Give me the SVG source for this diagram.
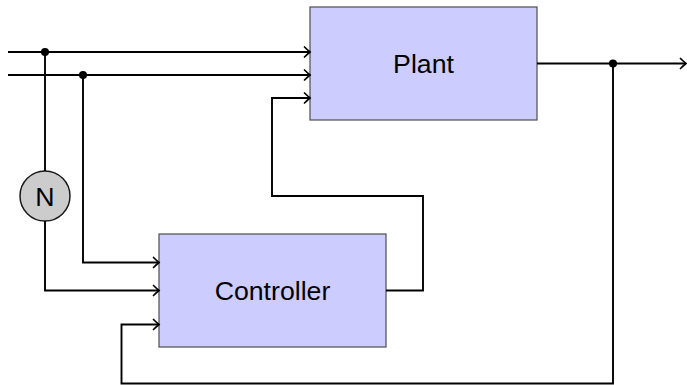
<svg xmlns="http://www.w3.org/2000/svg" width="687" height="385" viewBox="0 0 687 385">
  <style>
    .block { fill: #ccccff; stroke: #4d4d4d; stroke-width: 1.2; }
    .sum { fill: #cccccc; stroke: #1a1a1a; stroke-width: 1.5; }
    .label { font-family: "Liberation Sans", Arial, sans-serif; font-size: 26.7px; fill: #000; text-anchor: middle; }
    .wire { fill: none; stroke: #000; stroke-width: 1.9; stroke-linejoin: miter; }
    .arrow { marker-end: url(#tip); }
    .dot { fill: #000; }
  </style>
  <defs>
    <marker id="tip" markerUnits="userSpaceOnUse" viewBox="-8 -7 10 14" refX="0" refY="0" markerWidth="10" markerHeight="14" orient="auto">
      <path d="M -5.5,-5 Q -2,-1.6 0,0 Q -2,1.6 -5.5,5" fill="none" stroke="#000" stroke-width="1.7" stroke-linecap="round"/>
    </marker>
  </defs>

  <!-- blocks -->
  <g id="plant">
    <rect class="block" x="310" y="7" width="227" height="113"/>
    <text class="label" x="423.5" y="73.3">Plant</text>
  </g>
  <g id="controller">
    <rect class="block" x="159" y="234" width="227" height="113"/>
    <text class="label" x="272.5" y="300">Controller</text>
  </g>
  <g id="noise">
    <circle class="sum" cx="45" cy="196" r="25"/>
    <text class="label" x="45" y="205.5">N</text>
  </g>

  <!-- signal wires -->
  <g id="connectors">
    <path class="wire arrow" d="M 8,52 H 310"/>
    <path class="wire arrow" d="M 8,75 H 310"/>
    <path class="wire" d="M 45,52 V 171"/>
    <path class="wire arrow" d="M 45,221 V 290.5 H 159"/>
    <path class="wire arrow" d="M 83,75 V 262.5 H 159"/>
    <path class="wire arrow" d="M 386,290.5 H 423 V 196 H 272 V 98 H 310"/>
    <path class="wire arrow" d="M 537,63.5 H 686"/>
    <path class="wire arrow" d="M 613,63.5 V 383.5 H 121.5 V 324.5 H 159"/>
    <circle class="dot" cx="45" cy="52" r="4"/>
    <circle class="dot" cx="83" cy="75" r="4"/>
    <circle class="dot" cx="613" cy="63.5" r="4"/>
  </g>
</svg>
